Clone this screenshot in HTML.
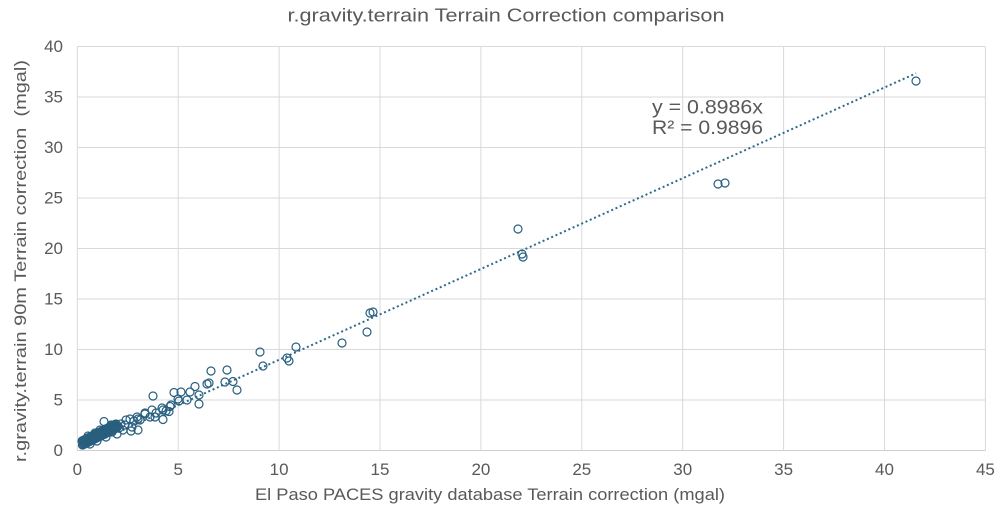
<!DOCTYPE html>
<html><head><meta charset="utf-8"><style>
html,body{margin:0;padding:0;background:#fff;}
svg{display:block;font-family:"Liberation Sans",Arial,sans-serif;}
</style></head><body>
<svg width="1000" height="513" viewBox="0 0 1000 513" xmlns="http://www.w3.org/2000/svg">
<rect width="1000" height="513" fill="#fff"/>
<g stroke="#d9d9d9" stroke-width="1" fill="none">
<line x1="77.3" y1="46.5" x2="77.3" y2="450.5"/>
<line x1="178.2" y1="46.5" x2="178.2" y2="450.5"/>
<line x1="279.1" y1="46.5" x2="279.1" y2="450.5"/>
<line x1="380" y1="46.5" x2="380" y2="450.5"/>
<line x1="480.9" y1="46.5" x2="480.9" y2="450.5"/>
<line x1="581.8" y1="46.5" x2="581.8" y2="450.5"/>
<line x1="682.7" y1="46.5" x2="682.7" y2="450.5"/>
<line x1="783.6" y1="46.5" x2="783.6" y2="450.5"/>
<line x1="884.5" y1="46.5" x2="884.5" y2="450.5"/>
<line x1="985.4" y1="46.5" x2="985.4" y2="450.5"/>
<line x1="77.3" y1="46.5" x2="985.4" y2="46.5"/>
<line x1="77.3" y1="97" x2="985.4" y2="97"/>
<line x1="77.3" y1="147.5" x2="985.4" y2="147.5"/>
<line x1="77.3" y1="198" x2="985.4" y2="198"/>
<line x1="77.3" y1="248.5" x2="985.4" y2="248.5"/>
<line x1="77.3" y1="299" x2="985.4" y2="299"/>
<line x1="77.3" y1="349.5" x2="985.4" y2="349.5"/>
<line x1="77.3" y1="400" x2="985.4" y2="400"/>
<line x1="77.3" y1="450.5" x2="985.4" y2="450.5" stroke="#cfcfcf"/>
</g>
<g fill="#595959" font-size="17" text-anchor="end">
<text x="63" y="52">40</text>
<text x="63" y="102.5">35</text>
<text x="63" y="153">30</text>
<text x="63" y="203.5">25</text>
<text x="63" y="254">20</text>
<text x="63" y="304.5">15</text>
<text x="63" y="355">10</text>
<text x="63" y="405.5">5</text>
<text x="63" y="456">0</text>
</g>
<g fill="#595959" font-size="17" text-anchor="middle">
<text x="77.3" y="475">0</text>
<text x="178.2" y="475">5</text>
<text x="279.1" y="475">10</text>
<text x="380" y="475">15</text>
<text x="480.9" y="475">20</text>
<text x="581.8" y="475">25</text>
<text x="682.7" y="475">30</text>
<text x="783.6" y="475">35</text>
<text x="884.5" y="475">40</text>
<text x="985.4" y="475">45</text>
</g>
<text x="506" y="21.5" fill="#595959" font-size="18" text-anchor="middle" textLength="437" lengthAdjust="spacingAndGlyphs">r.gravity.terrain Terrain Correction comparison</text>
<text x="490" y="500" fill="#595959" font-size="16.5" text-anchor="middle" textLength="470" lengthAdjust="spacingAndGlyphs">El Paso PACES gravity database Terrain correction (mgal)</text>
<text transform="translate(26,261) rotate(-90)" fill="#595959" font-size="16.5" text-anchor="middle" textLength="402" lengthAdjust="spacingAndGlyphs" style="white-space:pre">r.gravity.terrain 90m Terrain correction  (mgal)</text>
<text x="652" y="113.3" fill="#595959" font-size="19" textLength="111" lengthAdjust="spacingAndGlyphs">y = 0.8986x</text>
<text x="652" y="134" fill="#595959" font-size="19" textLength="111" lengthAdjust="spacingAndGlyphs">R² = 0.9896</text>
<line x1="84" y1="447.5" x2="916" y2="73.3" stroke="#2e6a8c" stroke-width="2" stroke-dasharray="2 2.7"/>
<g fill="none" stroke="#285f7f" stroke-width="1.2">
<circle cx="916" cy="81" r="4"/>
<circle cx="718" cy="184" r="4"/><circle cx="725" cy="183" r="4"/>
<circle cx="518" cy="229" r="4"/>
<circle cx="522" cy="254" r="4"/><circle cx="523" cy="257" r="4"/>
<circle cx="370" cy="313" r="4"/><circle cx="373" cy="312" r="4"/>
<circle cx="367" cy="332" r="4"/>
<circle cx="342" cy="343" r="4"/>
<circle cx="296" cy="347" r="4"/>
<circle cx="260" cy="352" r="4"/>
<circle cx="287" cy="358" r="4"/><circle cx="289" cy="361" r="4"/>
<circle cx="263" cy="366" r="4"/>
<circle cx="211" cy="371" r="4"/><circle cx="227" cy="370" r="4"/>
<circle cx="209" cy="383" r="4"/><circle cx="225" cy="382" r="4"/><circle cx="233" cy="381.5" r="4"/>
<circle cx="237" cy="390" r="4"/>
<circle cx="195" cy="386.5" r="4"/><circle cx="207" cy="384" r="4"/>
<circle cx="190" cy="392" r="4"/><circle cx="199" cy="395" r="4"/><circle cx="199" cy="404" r="4"/>
<circle cx="181" cy="392" r="4"/><circle cx="174" cy="392.5" r="4"/>
<circle cx="179" cy="401" r="4"/><circle cx="187" cy="400" r="4"/><circle cx="178" cy="399" r="4"/>
<circle cx="170" cy="406.5" r="4"/><circle cx="169" cy="411.5" r="4"/><circle cx="166" cy="411" r="4"/><circle cx="163" cy="410" r="4"/>
<circle cx="171" cy="405" r="4"/>
<circle cx="153" cy="396" r="4"/>
<circle cx="152" cy="410" r="4"/><circle cx="156" cy="413" r="4"/><circle cx="155" cy="417" r="4"/><circle cx="163" cy="419.5" r="4"/>
<circle cx="162" cy="408" r="4"/>
<circle cx="145" cy="414" r="4"/><circle cx="150" cy="417" r="4"/><circle cx="145" cy="413" r="4"/>
<circle cx="137" cy="417" r="4"/><circle cx="134" cy="421" r="4"/><circle cx="140" cy="420" r="4"/>
<circle cx="138" cy="419" r="4"/><circle cx="130" cy="419" r="4"/><circle cx="126" cy="420" r="4"/><circle cx="121" cy="424" r="4"/><circle cx="116" cy="424" r="4"/>
<circle cx="132" cy="427" r="4"/><circle cx="138" cy="430" r="4"/><circle cx="131" cy="431" r="4"/>
<circle cx="123" cy="430" r="4"/><circle cx="125" cy="425" r="4"/>
<circle cx="104" cy="421.5" r="4"/><circle cx="111" cy="425" r="4"/>
<circle cx="88" cy="436" r="4"/><circle cx="95" cy="433" r="4"/><circle cx="100" cy="430" r="4"/><circle cx="106" cy="437" r="4"/><circle cx="112" cy="432" r="4"/><circle cx="117" cy="434" r="4"/><circle cx="97" cy="441" r="4"/><circle cx="90" cy="444" r="4"/>
<circle cx="82" cy="441" r="4"/><circle cx="82.5" cy="445" r="4"/>
<circle cx="83" cy="440.5" r="4"/><circle cx="83.5" cy="444.5" r="4"/>
<circle cx="84" cy="440" r="4"/><circle cx="84.5" cy="444" r="4"/>
<circle cx="85" cy="439.5" r="4"/><circle cx="85.5" cy="443.5" r="4"/>
<circle cx="86" cy="439" r="4"/><circle cx="86.5" cy="443" r="4"/>
<circle cx="87" cy="438.5" r="4"/><circle cx="87.5" cy="442.5" r="4"/>
<circle cx="88" cy="438" r="4"/><circle cx="88.5" cy="442" r="4"/>
<circle cx="89" cy="437.5" r="4"/><circle cx="89.5" cy="441.5" r="4"/>
<circle cx="90" cy="437" r="4"/><circle cx="90.5" cy="441" r="4"/>
<circle cx="91" cy="436.5" r="4"/><circle cx="91.5" cy="440.5" r="4"/>
<circle cx="92" cy="436" r="4"/><circle cx="92.5" cy="440" r="4"/>
<circle cx="93" cy="435.5" r="4"/><circle cx="93.5" cy="439.5" r="4"/>
<circle cx="94" cy="435" r="4"/><circle cx="94.5" cy="439" r="4"/>
<circle cx="95" cy="434.5" r="4"/><circle cx="95.5" cy="438.5" r="4"/>
<circle cx="96" cy="434" r="4"/><circle cx="96.5" cy="438" r="4"/>
<circle cx="97" cy="433.5" r="4"/><circle cx="97.5" cy="437.5" r="4"/>
<circle cx="98" cy="433" r="4"/><circle cx="98.5" cy="437" r="4"/>
<circle cx="99" cy="432.5" r="4"/><circle cx="99.5" cy="436.5" r="4"/>
<circle cx="100" cy="432" r="4"/><circle cx="100.5" cy="436" r="4"/>
<circle cx="101" cy="431.5" r="4"/><circle cx="101.5" cy="435.5" r="4"/>
<circle cx="102" cy="431" r="4"/><circle cx="102.5" cy="435" r="4"/>
<circle cx="103" cy="430.5" r="4"/><circle cx="103.5" cy="434.5" r="4"/>
<circle cx="104" cy="430" r="4"/><circle cx="104.5" cy="434" r="4"/>
<circle cx="105" cy="429.5" r="4"/><circle cx="105.5" cy="433.5" r="4"/>
<circle cx="106" cy="429" r="4"/><circle cx="106.5" cy="433" r="4"/>
<circle cx="107" cy="428.5" r="4"/><circle cx="107.5" cy="432.5" r="4"/>
<circle cx="108" cy="428" r="4"/><circle cx="108.5" cy="432" r="4"/>
<circle cx="109" cy="427.5" r="4"/><circle cx="109.5" cy="431.5" r="4"/>
<circle cx="110" cy="427" r="4"/><circle cx="110.5" cy="431" r="4"/>
<circle cx="111" cy="426.5" r="4"/><circle cx="111.5" cy="430.5" r="4"/>
<circle cx="112" cy="426" r="4"/><circle cx="112.5" cy="430" r="4"/>
<circle cx="113" cy="425.5" r="4"/><circle cx="113.5" cy="429.5" r="4"/>
<circle cx="114" cy="425" r="4"/><circle cx="114.5" cy="429" r="4"/>
<circle cx="115" cy="424.5" r="4"/><circle cx="115.5" cy="428.5" r="4"/>
<circle cx="116" cy="428" r="4"/><circle cx="117" cy="427.5" r="4"/>
<circle cx="118" cy="426" r="4"/><circle cx="119" cy="428" r="4"/>
</g>
</svg>
</body></html>
